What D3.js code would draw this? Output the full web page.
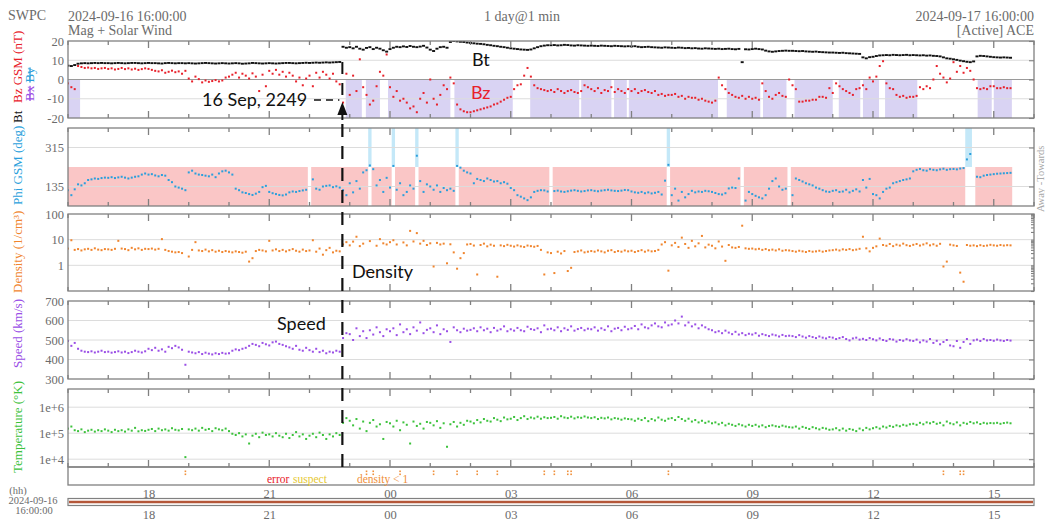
<!DOCTYPE html>
<html>
<head>
<meta charset="utf-8">
<script src="https://cdn.jsdelivr.net/npm/d3@7"></script>
<style>
  body { margin: 0; background: #fff; }
  svg { display: block; }
</style>
</head>
<body>
<svg id="chart" width="1045" height="521"></svg>
<script>
// ACE real-time solar wind, 1 day window, samples every 5 minutes from 2024-09-16 16:00 UTC.
const startTime = "2024-09-16T16:00:00Z";
const endTime   = "2024-09-17T16:00:00Z";
const sampleMinutes = 5;

// Total field Bt (nT), one row per hour
const btValues = [
  7.2,7.0,7.5,8.2,8.4,8.5,8.4,8.5,8.6,8.5,8.6,8.5,
  8.5,8.4,8.5,8.6,8.5,8.4,8.5,8.6,8.6,8.5,8.4,8.5,
  8.6,8.5,8.5,8.4,8.3,8.5,8.6,8.5,8.4,8.5,8.5,8.4,
  8.5,8.4,8.3,8.4,8.5,8.6,8.5,8.4,8.3,8.4,8.5,8.4,
  8.3,8.4,8.5,8.4,8.2,8.3,8.4,8.6,8.5,8.4,8.3,8.4,
  8.5,8.4,8.3,8.4,8.5,8.6,8.6,8.5,8.4,8.5,8.6,8.7,
  8.6,8.7,8.8,8.7,8.8,8.9,8.8,8.9,9.0,9.1,17.0,16.5,
  16.8,16.2,17.0,16.0,15.5,16.4,16.8,15.8,16.5,16.0,15.2,14.5,
  15.8,16.5,17.0,16.8,17.2,16.9,17.4,17.0,16.8,17.1,17.5,16.6,
  15.5,14.8,16.0,16.8,17.0,16.5,19.5,20.0,19.8,19.6,19.5,19.2,
  19.0,18.8,18.6,18.5,18.3,18.0,17.8,17.5,17.3,17.0,16.8,16.5,
  16.2,16.0,15.8,15.6,15.5,15.4,15.6,16.2,16.8,17.3,17.6,17.8,
  17.8,17.9,17.7,17.8,18.0,17.9,17.7,17.6,17.8,17.7,17.6,17.5,
  17.6,17.5,17.4,17.6,17.5,17.4,17.3,17.5,17.4,17.3,17.2,17.3,
  17.2,17.3,17.0,16.8,16.9,17.0,16.8,16.7,16.6,16.5,16.7,16.6,
  16.5,16.4,16.6,16.5,16.3,16.4,16.2,16.3,16.1,16.0,16.2,16.1,
  16.0,15.9,16.0,15.8,15.9,16.0,15.8,15.7,15.9,9.0,15.7,15.6,
  15.8,16.0,15.8,15.6,15.0,14.6,14.4,14.6,14.8,14.9,15.0,14.9,
  14.9,14.8,14.7,14.8,14.6,14.5,14.4,14.5,14.3,14.2,14.1,14.0,
  14.0,13.9,13.8,13.9,13.7,13.6,13.5,13.4,13.3,11.5,11.0,11.6,
  11.8,12.2,12.5,12.6,12.7,12.6,12.8,12.7,12.6,12.7,12.8,12.6,
  12.7,12.6,12.5,12.6,12.4,12.5,12.3,12.2,12.0,11.5,11.0,10.8,
  10.5,10.2,9.8,9.5,9.2,9.0,9.4,12.0,12.3,12.2,12.0,11.8,
  11.6,11.5,11.4,11.5,11.4,11.3
];

// Bz GSM (nT)
const bzValues = [
  -2,-4,-5,7,6.5,6,6.2,5.8,6,5.5,5.8,6,
  5.5,5.8,5.2,5.5,6.0,5.4,5.8,5.2,5.6,5.0,5.4,5.8,
  5.5,5.0,4.5,4.2,4.8,3.5,4.0,4.6,3.8,4.2,3.0,4.5,
  0.5,-1.0,1.5,0.2,-1.5,-0.5,-1.2,-0.8,-0.3,-1.0,-0.5,1.0,
  1.5,2.5,3.5,1.0,3.0,2.0,0.5,3.2,1.5,-6.0,2.5,-3.5,
  4.5,3.0,5.0,2.5,4.0,1.5,3.5,2.0,-1.0,1.0,-3.0,0.5,
  2.0,-3.5,3.5,1.0,4.0,2.5,0.5,3.0,-1.0,-2.5,-12,3,
  -8,2,-6,10.5,-4,-8,-13,-11,-3.5,4,2,13,
  -4,-9,-6,-11,-10,-12,-15,-14,-17,-10,-7,-12,
  0,-10,-13,-8,-3,-5,1,-2,-13,-15.5,-16.5,-17,
  -17,-16.5,-16,-15.5,-15,-14.5,-14,-13,-12.5,-11.5,-10.5,-9.5,
  -9,-5,-3,-2.5,2,6,1.5,-3,-4.5,-5,-5.5,-6,
  -5.5,-6.5,-5,-6,-7,-6,-5.5,-6.5,-7,-6,-3,-4,
  -5,-6,-4.5,-7,-5.5,-6,-4,-6.5,-5,-6,-7,-5,
  -6,-5,-7,-6,-5.5,-6.5,-7,-6,-8,-7.5,-8.5,-8,
  -8,-7.5,-9,-8.5,-10,-9,-9.5,-9.5,-10.5,-10,-11,-11.5,
  -12,-11,1,-3,-5,-7,-8,-9,-9.5,-8.5,-10,-9,
  -10,-9.5,-10.5,-2,-6,-9,-10,-8,-7,-8.5,-9,0,
  -3,-5,-11.5,-11.5,-11,-11,-10.5,-10.5,-9,-9,-9.5,-4.5,
  -7,-2,-3.5,-5,-6,-7,-8,-5,-4.5,-3,-5,1,
  -1,1.5,7,9.5,-2,-4.5,-5,-8,-9,-8.5,-9.5,-9,
  -9,-8.5,-4,-5,-3.5,-4.5,0,7,3,1,-1.5,0.5,
  9,4,7,3.5,6,4.5,0,-4.5,-5,-4.5,-5,-3.5,
  -3.5,-4.5,-4.5,-4,-4.5,-4.5
];

// Intervals of southward Bz (shaded band)
const bzSouthSpans = [
  ["2024-09-16T16:00","2024-09-16T16:18"],
  ["2024-09-16T22:54","2024-09-16T23:18"],
  ["2024-09-16T23:24","2024-09-16T23:45"],
  ["2024-09-16T23:57","2024-09-17T01:30"],
  ["2024-09-17T01:36","2024-09-17T03:03"],
  ["2024-09-17T03:29","2024-09-17T04:42"],
  ["2024-09-17T04:45","2024-09-17T05:30"],
  ["2024-09-17T05:34","2024-09-17T05:53"],
  ["2024-09-17T05:56","2024-09-17T08:09"],
  ["2024-09-17T08:22","2024-09-17T09:12"],
  ["2024-09-17T09:16","2024-09-17T09:51"],
  ["2024-09-17T10:03","2024-09-17T11:00"],
  ["2024-09-17T11:09","2024-09-17T11:41"],
  ["2024-09-17T11:45","2024-09-17T12:09"],
  ["2024-09-17T12:18","2024-09-17T13:06"],
  ["2024-09-17T14:36","2024-09-17T14:57"],
  ["2024-09-17T15:00","2024-09-17T15:27"]
];

// Phi GSM (deg); null = no data
const phiValues = [
  118,95,122,145,140,150,165,168,172,170,174,176,
  175,178,174,177,180,176,172,176,180,182,190,195,
  190,192,186,182,188,185,165,155,135,130,125,118,
  200,208,195,190,188,185,182,190,178,195,205,208,
  200,190,125,118,108,105,100,96,102,110,132,138,
  110,104,100,96,94,98,108,112,110,114,117,120,
  null,168,125,120,135,138,140,132,136,130,118,95,
  150,108,160,125,200,210,232,215,140,165,110,175,
  130,230,120,150,95,110,140,125,277,160,110,145,
  135,120,140,110,128,118,125,115,230,222,208,200,
  195,150,170,165,160,172,165,158,160,150,155,148,
  128,118,95,88,80,72,85,110,115,118,117,112,
  null,114,116,112,110,113,116,118,115,112,114,117,
  118,115,113,116,118,120,117,115,114,116,119,118,
  112,108,106,110,104,108,103,106,110,98,162,235,
  95,125,70,110,85,100,115,108,112,110,115,113,
  110,105,100,98,104,126,130,128,172,null,70,110,
  100,92,85,80,95,125,160,172,135,120,125,null,
  95,172,165,158,150,145,140,130,125,118,112,110,
  115,118,110,112,120,108,115,122,112,165,130,170,
  100,95,80,110,125,130,150,155,160,165,168,172,
  205,212,216,210,208,215,212,210,214,217,212,215,
  216,214,218,220,260,285,null,180,178,185,188,190,
  192,194,195,196,197,198
];

// Proton density (1/cm^3)
const densityValues = [
  4.5,9.5,4.0,4.3,3.8,4.2,4.4,4.0,4.6,4.1,3.9,4.3,
  4.2,4.0,4.4,9.0,4.5,4.3,3.9,4.8,4.2,4.6,4.0,4.4,
  4.3,4.5,4.1,4.4,10.5,4.0,3.6,3.4,3.2,3.3,3.0,0.05,
  2.2,4.0,8.0,3.8,3.6,4.1,3.5,3.9,3.4,3.7,3.3,3.6,
  3.4,3.2,3.5,3.3,3.1,3.4,1.4,1.9,3.6,4.0,3.8,3.5,
  9.0,3.8,4.2,3.6,4.0,3.5,3.9,4.3,3.7,3.4,4.1,3.6,
  3.8,9.5,3.4,4.5,2.6,3.9,4.8,3.2,3.7,3.5,6.5,8.0,
  6.0,8.4,13,5.6,7.0,0.6,8.8,0.5,5.8,10.5,7.2,6.5,
  8.0,9.5,6.5,0.7,7.8,6.0,22,8.5,18,7.0,9.0,6.2,
  7.2,0.9,7.5,6.5,7.0,1.2,6.6,3.2,0.74,1.9,3.0,6.5,
  6.8,5.9,0.44,6.2,7.0,5.5,6.4,5.8,0.36,6.0,5.6,6.3,
  5.8,5.4,6.0,5.5,5.2,5.9,5.6,5.3,5.7,4.0,0.44,3.2,
  3.0,0.5,3.4,2.9,3.6,0.6,0.8,3.3,3.5,3.8,3.2,3.4,
  3.6,3.4,3.8,3.5,3.2,3.7,3.9,3.3,3.6,3.4,3.8,3.5,
  3.7,3.3,3.6,3.9,3.4,3.8,3.5,3.6,4.0,6.5,8.0,0.62,
  6.0,7.5,5.2,12,6.8,4.8,9.0,5.5,7.2,14,5.0,6.4,
  5.8,4.6,8.5,5.4,1.5,6.2,5.0,4.8,5.2,35,4.6,4.4,
  4.5,4.2,4.4,4.0,4.3,3.9,4.1,3.8,4.2,3.7,3.9,3.8,
  3.6,3.4,3.7,3.5,3.3,3.6,3.4,3.5,3.7,3.4,3.6,3.8,
  3.9,4.1,3.8,4.2,4.0,4.3,3.9,4.1,4.4,13,4.6,3.5,
  4.8,5.5,11,6.2,5.8,6.8,5.6,6.4,5.9,7.0,6.1,5.7,
  6.3,6.8,5.9,6.5,7.2,6.0,6.6,5.8,6.9,0.9,1.4,6.4,
  6.0,5.7,0.52,0.23,6.2,5.8,6.0,5.6,6.1,5.7,5.9,6.3,
  6.0,5.8,6.2,5.9,6.1,6.0
];

// Bulk speed (km/s)
const speedValues = [
  495,470,485,455,445,440,438,442,436,440,445,438,
  440,435,438,442,436,440,433,438,445,440,436,442,
  455,448,460,445,452,440,465,458,470,462,450,373,
  440,436,432,438,428,435,430,426,432,428,434,430,
  432,445,452,448,455,460,470,480,475,468,485,478,
  472,488,492,480,475,468,462,455,470,450,445,460,
  448,440,455,438,445,432,440,436,445,440,510,535,
  530,500,560,520,545,510,550,528,565,540,520,555,
  545,560,525,580,540,555,530,565,548,590,535,552,
  560,540,575,530,555,545,490,565,550,540,558,548,
  552,560,545,565,550,558,540,562,548,555,570,545,
  555,548,562,550,545,568,556,552,560,540,575,555,
  558,550,565,545,560,552,570,548,556,562,550,558,
  555,565,548,560,552,570,545,558,562,550,568,555,
  560,572,555,580,565,560,575,585,570,565,590,575,
  580,600,585,620,575,590,570,580,560,575,565,555,
  550,540,545,535,548,538,530,542,528,535,525,532,
  528,535,522,530,525,520,528,524,518,526,520,522,
  520,515,525,518,512,520,515,510,518,512,508,515,
  512,505,510,515,505,498,508,512,502,506,500,510,
  504,498,508,500,495,505,502,492,500,496,504,498,
  495,502,488,498,492,505,485,496,478,490,500,472,
  468,495,460,490,505,480,498,502,495,505,498,500,
  496,502,498,495,500,497
];

// Ion temperature (K)
const temperatureValues = [
  150000,180000,130000,120000,140000,110000,125000,135000,115000,130000,120000,140000,
  125000,110000,135000,120000,130000,115000,140000,125000,160000,118000,130000,122000,
  135000,145000,120000,150000,130000,140000,125000,155000,135000,128000,145000,12000,
  140000,130000,150000,125000,160000,135000,145000,120000,155000,140000,130000,150000,
  120000,95000,85000,100000,75000,90000,40000,80000,95000,70000,105000,85000,
  90000,75000,100000,80000,70000,95000,65000,85000,110000,75000,90000,60000,
  80000,95000,70000,105000,85000,60000,90000,75000,100000,85000,250000,380000,
  300000,200000,350000,150000,280000,120000,250000,320000,180000,220000,60000,270000,
  240000,180000,300000,130000,260000,210000,40000,280000,190000,230000,150000,270000,
  250000,200000,290000,160000,240000,30000,220000,270000,180000,250000,210000,300000,
  280000,240000,320000,260000,350000,300000,280000,380000,330000,290000,400000,340000,
  360000,420000,320000,380000,450000,350000,400000,370000,430000,360000,410000,380000,
  390000,420000,360000,450000,400000,380000,430000,370000,410000,390000,440000,400000,
  380000,410000,350000,390000,370000,400000,340000,380000,360000,330000,370000,350000,
  340000,300000,360000,320000,380000,290000,350000,310000,400000,330000,300000,360000,
  380000,320000,420000,350000,300000,360000,280000,320000,260000,300000,250000,280000,
  240000,260000,220000,250000,200000,230000,210000,190000,220000,200000,180000,210000,
  190000,210000,180000,200000,170000,190000,200000,185000,175000,195000,180000,170000,
  165000,180000,150000,175000,160000,145000,170000,155000,140000,160000,150000,135000,
  140000,155000,130000,150000,125000,145000,135000,120000,150000,130000,160000,140000,
  155000,170000,150000,180000,165000,190000,175000,200000,185000,210000,195000,220000,
  230000,210000,250000,220000,260000,240000,270000,230000,250000,200000,280000,240000,
  220000,260000,200000,250000,230000,270000,240000,260000,225000,250000,235000,245000,
  240000,250000,230000,245000,255000,240000
];

// Axis tick values and their printed labels
const magTicks = [-20, -10, 0, 10, 20];
const magTickLabels = ["-20", "-10", "0", "10", "20"];
const phiTicks = [135, 315];
const phiTickLabels = ["135", "315"];
const densityTicks = [1, 10, 100];
const densityTickLabels = ["1", "10", "100"];
const speedTicks = [300, 400, 500, 600, 700];
const speedTickLabels = ["300", "400", "500", "600", "700"];
const tempTicks = [1e4, 1e5, 1e6];
const tempTickLabels = ["1e+4", "1e+5", "1e+6"];

// Time of the shock arrival marker
const shockTime = "2024-09-16T22:49:00Z";
const shockLabel = "16 Sep, 2249";

// ---------------------------------------------------------------
const svg = d3.select("#chart");
const SERIF = "'Liberation Serif', 'DejaVu Serif', serif";
const SANS = "Lato, 'Open Sans', sans-serif";
const AXIS_GREY = "#808080";
const TEXT_GREY = "#6b6b6b";

const parseUtc = s => new Date(s.length === 16 ? s + ":00Z" : s);
const t0 = new Date(startTime), t1 = new Date(endTime);
const x = d3.scaleUtc().domain([t0, t1]).range([68, 1034]);
const times = btValues.map((_, i) => new Date(+t0 + i * sampleMinutes * 60000));
const halfStep = sampleMinutes * 30000;

const panels = {
  mag:   { top: 41,  bottom: 118, y: d3.scaleLinear().domain([-20, 20]) },
  phi:   { top: 128, bottom: 206, y: d3.scaleLinear().domain([45, 405]) },
  dens:  { top: 214, bottom: 291, y: d3.scaleLog().domain([0.1, 100]) },
  speed: { top: 301, bottom: 379, y: d3.scaleLinear().domain([300, 700]) },
  temp:  { top: 389, bottom: 467, y: d3.scaleLog().domain([5e3, 5e6]) }
};
Object.values(panels).forEach(p => p.y.range([p.bottom, p.top]));

const defs = svg.append("defs");
Object.entries(panels).forEach(([k, p]) => {
  defs.append("clipPath").attr("id", "clip-" + k)
    .append("rect").attr("x", 68).attr("y", p.top)
    .attr("width", 1034 - 68).attr("height", p.bottom - p.top);
});

const layerBg = svg.append("g");
const layerGrid = svg.append("g");
const layerData = svg.append("g");
const layerFrame = svg.append("g");
const layerText = svg.append("g");

// ---- background shading ----
// southward Bz band between 0 and -20 nT
layerBg.append("g").attr("clip-path", "url(#clip-mag)")
  .selectAll("rect").data(bzSouthSpans).join("rect")
  .attr("x", d => x(parseUtc(d[0])))
  .attr("width", d => x(parseUtc(d[1])) - x(parseUtc(d[0])))
  .attr("y", panels.mag.y(0))
  .attr("height", panels.mag.y(-20) - panels.mag.y(0))
  .attr("fill", "#d9d3f3");

// IMF sector shading: towards (45-225) pink, away (225-405) light blue
const sectorRuns = [];
phiValues.forEach((v, i) => {
  if (v == null) return;
  const kind = v <= 225 ? "towards" : "away";
  const a = +times[i] - halfStep, b = +times[i] + halfStep;
  const last = sectorRuns[sectorRuns.length - 1];
  if (last && last.kind === kind && Math.abs(last.end - a) < 1) last.end = b;
  else sectorRuns.push({ kind, start: Math.max(a, +t0), end: b });
});
layerBg.append("g").attr("clip-path", "url(#clip-phi)")
  .selectAll("rect").data(sectorRuns).join("rect")
  .attr("x", d => x(new Date(d.start)))
  .attr("width", d => x(new Date(d.end)) - x(new Date(d.start)))
  .attr("y", d => d.kind === "towards" ? panels.phi.y(225) : panels.phi.y(405))
  .attr("height", d => d.kind === "towards"
      ? panels.phi.y(45) - panels.phi.y(225)
      : panels.phi.y(225) - panels.phi.y(405))
  .attr("fill", d => d.kind === "towards" ? "#fac6c6" : "#c4e8f8");

// ---- horizontal grid lines ----
function grid(p, values, strongValue) {
  layerGrid.append("g").selectAll("line").data(values).join("line")
    .attr("x1", 68).attr("x2", 1034)
    .attr("y1", d => p.y(d)).attr("y2", d => p.y(d))
    .attr("stroke", d => d === strongValue ? "#9a9a9a" : "#dcdcdc")
    .attr("stroke-width", 1);
}
grid(panels.mag, [-10, 0, 10], 0);
grid(panels.phi, phiTicks);
grid(panels.dens, [1, 10]);
grid(panels.speed, [400, 500, 600]);
grid(panels.temp, tempTicks);

// ---- data points ----
function dots(key, values, color, w, h) {
  const p = panels[key];
  const isLog = typeof p.y.base === "function";
  const pts = values.map((v, i) => ({ t: times[i], v }))
    .filter(d => d.v != null && !(isLog && d.v <= 0));
  layerData.append("g").attr("clip-path", "url(#clip-" + key + ")")
    .selectAll("rect").data(pts).join("rect")
    .attr("x", d => x(d.t) - w / 2)
    .attr("y", d => p.y(d.v) - h / 2)
    .attr("width", w).attr("height", h)
    .attr("fill", color);
}
dots("mag", btValues, "#111111", 3, 1.9);
dots("mag", bzValues, "#e8202a", 2, 2);
dots("phi", phiValues, "#2a9fdc", 2, 2);
dots("dens", densityValues, "#f0852e", 2, 2);
dots("speed", speedValues, "#9a4ee6", 2, 2);
dots("temp", temperatureValues, "#3cc23c", 2, 2);

// ---- frames, time ticks and value axes ----
const hourTicks = x.ticks(d3.utcHour.every(1));
Object.entries(panels).forEach(([k, p]) => {
  layerFrame.append("rect")
    .attr("x", 68).attr("y", p.top)
    .attr("width", 1034 - 68).attr("height", p.bottom - p.top)
    .attr("fill", "none").attr("stroke", AXIS_GREY).attr("stroke-width", 1.3);
  const tickG = layerFrame.append("g").attr("stroke", AXIS_GREY).attr("stroke-width", 1.3);
  hourTicks.forEach(t => {
    const len = t.getUTCHours() % 3 === 0 ? 7 : 4;
    const xx = x(t);
    tickG.append("line").attr("x1", xx).attr("x2", xx).attr("y1", p.top).attr("y2", p.top + len);
    tickG.append("line").attr("x1", xx).attr("x2", xx).attr("y1", p.bottom).attr("y2", p.bottom - len);
  });
});

function valueAxis(p, ticks, labels, minorRight) {
  const left = layerFrame.append("g").attr("transform", "translate(68,0)")
    .call(d3.axisLeft(p.y).tickValues(ticks).tickFormat((d, i) => labels[i]).tickSize(0).tickPadding(4));
  left.select(".domain").remove();
  left.selectAll("text").attr("font-family", SERIF).attr("font-size", 12.5).attr("fill", TEXT_GREY);
  const right = layerFrame.append("g").attr("transform", "translate(1034,0)")
    .call(d3.axisLeft(p.y).tickValues(minorRight || ticks).tickFormat("").tickSize(minorRight ? 3 : 5));
  right.select(".domain").remove();
  right.selectAll("line").attr("stroke", AXIS_GREY).attr("stroke-width", 1.1);
}
valueAxis(panels.mag, magTicks, magTickLabels);
valueAxis(panels.phi, phiTicks, phiTickLabels);
const densMinor = [];
[0.1, 1, 10].forEach(dec => d3.range(1, 10).forEach(m => densMinor.push(dec * m)));
densMinor.push(100);
valueAxis(panels.dens, densityTicks, densityTickLabels, densMinor);
valueAxis(panels.speed, speedTicks, speedTickLabels);
valueAxis(panels.temp, tempTicks, tempTickLabels);

// ---- quality flag strip ----
const flagTop = 467, flagBottom = 485;
layerFrame.append("rect").attr("x", 68).attr("y", flagTop)
  .attr("width", 1034 - 68).attr("height", flagBottom - flagTop)
  .attr("fill", "none").attr("stroke", AXIS_GREY).attr("stroke-width", 1.3);
const lowDensity = densityValues.map((v, i) => ({ t: times[i], v })).filter(d => d.v != null && d.v < 1);
const flagG = layerData.append("g").attr("fill", "#f0903a");
lowDensity.forEach(d => {
  flagG.append("rect").attr("x", x(d.t) - 0.8).attr("y", 470.5).attr("width", 1.6).attr("height", 1.6);
  flagG.append("rect").attr("x", x(d.t) - 0.8).attr("y", 473.5).attr("width", 1.6).attr("height", 1.6);
});
const flagLegend = [
  { text: "error", color: "#e8202a", x: 267 },
  { text: "suspect", color: "#e6c832", x: 293 },
  { text: "density < 1", color: "#f0903a", x: 357 }
];
layerText.selectAll(null).data(flagLegend).join("text")
  .attr("x", d => d.x).attr("y", 483)
  .attr("font-family", SERIF).attr("font-size", 11.5)
  .attr("fill", d => d.color).text(d => d.text);

// ---- overview bar and hour labels ----
layerFrame.append("rect").attr("x", 68).attr("y", 498.5)
  .attr("width", 1034 - 68).attr("height", 7)
  .attr("fill", "#fff").attr("stroke", AXIS_GREY).attr("stroke-width", 1.2);
layerFrame.append("line").attr("x1", 69).attr("x2", 1033)
  .attr("y1", 502).attr("y2", 502).attr("stroke", "#b4573a").attr("stroke-width", 2.4);

function hourLabels(yPos) {
  const ax = layerText.append("g").attr("transform", `translate(0,${yPos})`)
    .call(d3.axisBottom(x).ticks(d3.utcHour.every(3)).tickFormat(d3.utcFormat("%H")).tickSize(0).tickPadding(0));
  ax.select(".domain").remove();
  ax.selectAll("text").attr("font-family", SERIF).attr("font-size", 12.5).attr("fill", TEXT_GREY)
    .attr("dy", 0);
  ax.selectAll(".tick").filter(d => +d === +t0 || +d === +t1).remove();
}
hourLabels(498);
hourLabels(519);

const startStamp = [
  { text: "(hh)", x: 18, y: 494 },
  { text: "2024-09-16", x: 33, y: 503.5 },
  { text: "16:00:00", x: 34, y: 513.5 }
];
layerText.selectAll(null).data(startStamp).join("text")
  .attr("x", d => d.x).attr("y", d => d.y).attr("text-anchor", "middle")
  .attr("font-family", SERIF).attr("font-size", 10.5).attr("fill", TEXT_GREY).text(d => d.text);

// ---- header ----
const header = [
  { text: "SWPC", x: 8, y: 20, anchor: "start" },
  { text: "2024-09-16 16:00:00", x: 68, y: 21, anchor: "start" },
  { text: "Mag + Solar Wind", x: 68, y: 35, anchor: "start" },
  { text: "1 day@1 min", x: 522, y: 21, anchor: "middle" },
  { text: "2024-09-17 16:00:00", x: 1034, y: 21, anchor: "end" },
  { text: "[Active] ACE", x: 1034, y: 35, anchor: "end" }
];
layerText.selectAll(null).data(header).join("text")
  .attr("x", d => d.x).attr("y", d => d.y).attr("text-anchor", d => d.anchor)
  .attr("font-family", SERIF).attr("font-size", 14).attr("fill", TEXT_GREY).text(d => d.text);

// ---- rotated panel titles ----
function vtext(xBase, yStart, parts, size, anchor) {
  const t = layerText.append("text")
    .attr("transform", `translate(${xBase},${yStart}) rotate(-90)`)
    .attr("font-family", SERIF).attr("font-size", size || 13)
    .attr("text-anchor", anchor || "start");
  parts.forEach(p => {
    const s = t.append("tspan").attr("fill", p.color).text(p.text);
    if (p.strike) s.attr("text-decoration", "line-through");
  });
  return t;
}
vtext(22, 123, [{ text: "Bt", color: "#111" }]);
vtext(22, 103, [{ text: "Bz GSM (nT)", color: "#e8202a" }]);
vtext(34, 101, [{ text: "Bx", color: "#9a4ee6", strike: true }, { text: " " }, { text: "By", color: "#2a9fdc", strike: true }]);
vtext(22, 205, [{ text: "Phi GSM (deg)", color: "#2a9fdc" }]);
vtext(22, 293, [{ text: "Density (1/cm³)", color: "#f0852e" }]);
vtext(22, 368, [{ text: "Speed (km/s)", color: "#9a4ee6" }]);
vtext(22, 473, [{ text: "Temperature (°K)", color: "#3cc23c" }]);
vtext(1044, 212, [{ text: "Away -Towards", color: "#a8a8a8" }], 10.5);

// ---- shock arrival annotation ----
const xs = x(new Date(shockTime));
const ann = svg.append("g");
ann.append("line").attr("x1", xs).attr("x2", xs).attr("y1", 62).attr("y2", 100)
  .attr("stroke", "#111").attr("stroke-width", 2).attr("stroke-dasharray", "12,9");
ann.append("line").attr("x1", xs).attr("x2", xs).attr("y1", 124).attr("y2", 467)
  .attr("stroke", "#111").attr("stroke-width", 2.2).attr("stroke-dasharray", "13,9");
ann.append("line").attr("x1", 314).attr("x2", xs - 3).attr("y1", 100).attr("y2", 100)
  .attr("stroke", "#111").attr("stroke-width", 1.5).attr("stroke-dasharray", "7,5");
ann.append("path")
  .attr("d", `M${xs},102 L${xs - 5},115 L${xs + 5},115 Z`).attr("fill", "#111");
ann.append("line").attr("x1", xs).attr("x2", xs).attr("y1", 114).attr("y2", 120)
  .attr("stroke", "#111").attr("stroke-width", 2);

const notes = [
  { text: shockLabel, x: 202, y: 106, color: "#111" },
  { text: "Bt", x: 472, y: 66, color: "#111" },
  { text: "Bz", x: 471, y: 99, color: "#e8202a" },
  { text: "Density", x: 352, y: 278, color: "#111" },
  { text: "Speed", x: 277, y: 330, color: "#111" }
];
ann.selectAll("text").data(notes).join("text")
  .attr("x", d => d.x).attr("y", d => d.y)
  .attr("font-family", SANS).attr("font-size", 18).attr("fill", d => d.color).text(d => d.text);
</script>
</body>
</html>
